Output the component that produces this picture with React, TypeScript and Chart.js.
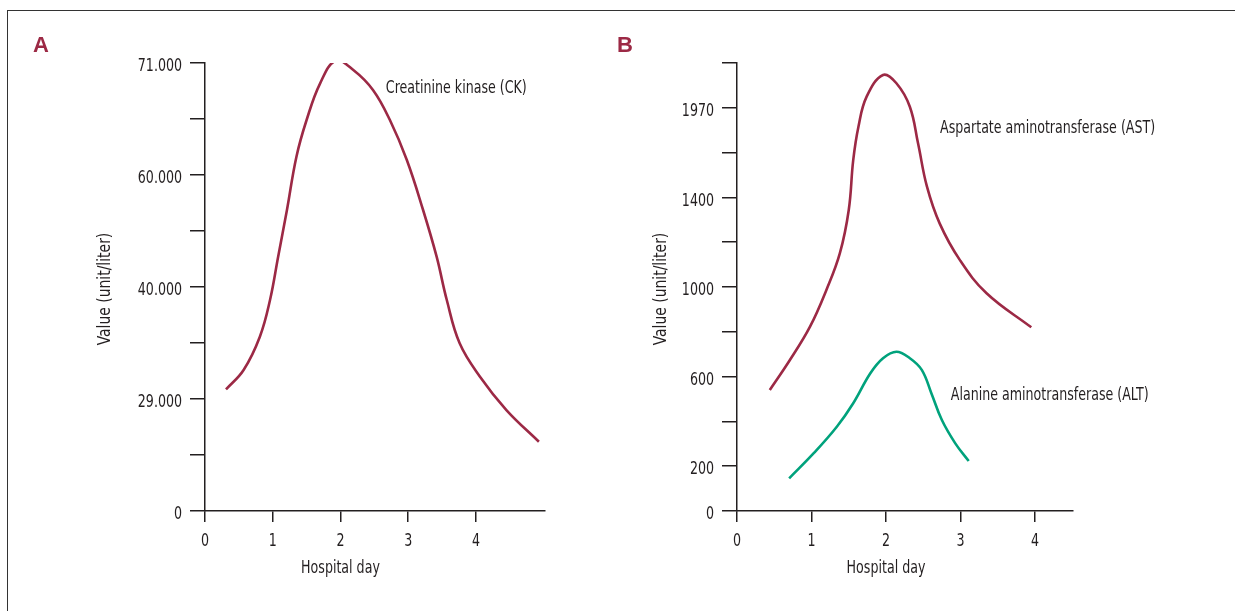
import React, { useEffect, useRef } from "react";
import { Chart, registerables } from "chart.js";

Chart.register(...registerables);

// ---------- Data ----------
// Panel A: Creatinine kinase (CK)
const ckDays = [0.31, 0.57, 0.81, 0.96, 1.08, 1.21, 1.35, 1.5, 1.7, 1.93, 2.19, 2.48, 2.73, 2.98, 3.22, 3.42, 3.57, 3.76, 4.06, 4.45, 4.93];
const ckValues = [29950, 31850, 35120, 38720, 45410, 53750, 61800, 65400, 69000, 71220, 70310, 68350, 65400, 61470, 53750, 45410, 38720, 34470, 31190, 26150, 17940];
const ckTickValues = [0, 29000, 40000, 60000, 71000];
const ckTickPositions = [0, 2, 4, 6, 8];
const ckTickLabels = ["0", "29.000", "40.000", "60.000", "71.000"];

// Panel B: AST and ALT
const astDays = [0.44, 0.71, 0.98, 1.2, 1.38, 1.5, 1.56, 1.63, 1.74, 1.96, 2.14, 2.32, 2.43, 2.55, 2.72, 2.99, 3.35, 3.95];
const astValues = [540, 674, 823, 987, 1150, 1344, 1637, 1850, 2041, 2179, 2126, 1977, 1744, 1468, 1284, 1121, 972, 820];
const altDays = [0.7, 1.03, 1.34, 1.56, 1.79, 1.96, 2.14, 2.32, 2.48, 2.61, 2.75, 2.93, 3.11];
const altValues = [146, 258, 376, 481, 615, 682, 711, 682, 630, 525, 406, 302, 223];
const bTickValues = [0, 200, 600, 1000, 1400, 1970];
const bTickPositions = [0, 1, 3, 5, 7, 9];
const bTickLabels = ["0", "200", "600", "1000", "1400", "1970"];

const dayTicks = [0, 1, 2, 3, 4];

// ---------- Styles ----------
const RED = "#9c2945";
const GREEN = "#00a27c";
const INK = "#231f20";
const FONT = '"DejaVu Sans Condensed", "Liberation Sans Narrow", sans-serif';
const FONT_SIZE = 18;
const SX = 0.78; // horizontal condensing to mimic the narrow typeface
const SX_TITLE = 0.86;
const H = 611;

// piecewise-linear mapping of a value onto the broken axis' tick positions
function toPos(v: number, vals: number[], poss: number[]): number {
  for (let i = 1; i < vals.length; i++) {
    if (v <= vals[i] || i === vals.length - 1) {
      const t = (v - vals[i - 1]) / (vals[i] - vals[i - 1]);
      return poss[i - 1] + t * (poss[i] - poss[i - 1]);
    }
  }
  return 0;
}

function labelFor(pos: number, poss: number[], labels: string[]): string {
  const i = poss.indexOf(pos);
  return i >= 0 ? labels[i] : "";
}

function drawText(
  ctx: CanvasRenderingContext2D,
  text: string,
  x: number,
  y: number,
  align: CanvasTextAlign,
  baseline: CanvasTextBaseline,
  rotate = false,
  sx = SX
) {
  ctx.save();
  ctx.translate(x, y);
  if (rotate) ctx.rotate(-Math.PI / 2);
  ctx.scale(sx, 1);
  ctx.textAlign = align;
  ctx.textBaseline = baseline;
  ctx.fillText(text, 0, 0);
  ctx.restore();
}

const textPlugin = {
  id: "panelTexts",
  afterDraw(chart: any, _args: any, opts: any) {
    const { ctx, scales, chartArea } = chart;
    const xs = scales.x;
    const ys = scales.y;
    ctx.save();
    ctx.font = `bold 22px "Liberation Sans", Arial, sans-serif`;
    ctx.fillStyle = RED;
    ctx.textAlign = "left";
    ctx.textBaseline = "alphabetic";
    ctx.fillText(opts.letter, opts.letterX, 52);

    ctx.font = `${FONT_SIZE}px ${FONT}`;
    ctx.fillStyle = INK;

    // y tick labels
    for (const t of ys.ticks) {
      const lab = labelFor(t.value, opts.tickPositions, opts.tickLabels);
      if (lab) drawText(ctx, lab, chartArea.left - 15 - 8, ys.getPixelForValue(t.value) + 8.2, "right", "alphabetic");
    }
    // x tick labels
    for (const t of xs.ticks) {
      drawText(ctx, String(t.value), xs.getPixelForValue(t.value), 545.5, "center", "alphabetic");
    }

    drawText(ctx, "Hospital day", xs.getPixelForValue(2), 572.5, "center", "alphabetic");
    drawText(
      ctx,
      "Value (unit/liter)",
      opts.yTitleX,
      (chartArea.top + chartArea.bottom) / 2 + 2,
      "center",
      "middle",
      true,
      SX_TITLE
    );

    for (const n of opts.notes) {
      drawText(ctx, n.text, xs.getPixelForValue(n.day), ys.getPixelForValue(n.pos), "left", "middle");
    }
    ctx.restore();
  },
};

function makeConfig(p: any): any {
  return {
    type: "line",
    data: { datasets: p.datasets },
    plugins: [textPlugin],
    options: {
      animation: false,
      responsive: false,
      events: [],
      layout: { padding: { left: 0, top: 63, right: p.rightPad, bottom: 0 } },
      elements: { point: { radius: 0 } },
      plugins: {
        legend: { display: false },
        tooltip: { enabled: false },
        panelTexts: {
          letter: p.letter,
          letterX: p.letterX,
          yTitleX: p.yTitleX,
          notes: p.notes,
          tickPositions: p.tickPositions,
          tickLabels: p.tickLabels,
        },
      },
      scales: {
        x: {
          type: "linear",
          min: 0,
          max: p.xMax,
          afterBuildTicks: (s: any) => {
            s.ticks = dayTicks.map((v) => ({ value: v }));
          },
          afterFit: (s: any) => {
            s.height = H - 511;
          },
          ticks: { display: false },
          grid: { drawOnChartArea: false, drawTicks: true, tickLength: 11, color: INK, lineWidth: 1.5 },
          border: { display: true, color: INK, width: 1.5 },
        },
        y: {
          type: "linear",
          min: 0,
          max: p.yMax,
          afterBuildTicks: (s: any) => {
            const t = [];
            for (let i = 0; i <= p.yMax; i++) t.push({ value: i });
            s.ticks = t;
          },
          afterFit: (s: any) => {
            s.width = p.axisLeft;
          },
          ticks: { display: false },
          grid: { drawOnChartArea: false, drawTicks: true, tickLength: 15, color: INK, lineWidth: 1.5 },
          border: { display: true, color: INK, width: 1.5 },
        },
      },
    },
  };
}

function series(days: number[], values: number[], vals: number[], poss: number[], color: string) {
  return {
    data: days.map((d, i) => ({ x: d, y: toPos(values[i], vals, poss) })),
    borderColor: color,
    borderWidth: 2.6,
    tension: 0.4,
    fill: false,
    pointRadius: 0,
  };
}

const configA = () =>
  makeConfig({
    datasets: [series(ckDays, ckValues, ckTickValues, ckTickPositions, RED)],
    xMax: 5.02,
    yMax: 8,
    axisLeft: 205,
    rightPad: 610 - 545,
    tickPositions: ckTickPositions,
    tickLabels: ckTickLabels,
    letter: "A",
    letterX: 33,
    yTitleX: 105,
    notes: [{ text: "Creatinine kinase (CK)", day: 2.67, pos: 7.55 }],
  });

const configB = () =>
  makeConfig({
    datasets: [
      series(astDays, astValues, bTickValues, bTickPositions, RED),
      series(altDays, altValues, bTickValues, bTickPositions, GREEN),
    ],
    xMax: 4.51,
    yMax: 10,
    axisLeft: 737 - 610,
    rightPad: 625 - (1073 - 610),
    tickPositions: bTickPositions,
    tickLabels: bTickLabels,
    letter: "B",
    letterX: 7,
    yTitleX: 661 - 610,
    notes: [
      { text: "Aspartate aminotransferase (AST)", day: 2.725, pos: 8.55 },
      { text: "Alanine aminotransferase (ALT)", day: 2.87, pos: 2.59 },
    ],
  });

function Panel({ makeCfg, left, width }: { makeCfg: () => any; left: number; width: number }) {
  const ref = useRef<HTMLCanvasElement | null>(null);
  useEffect(() => {
    if (!ref.current) return;
    const chart = new Chart(ref.current, makeCfg());
    return () => chart.destroy();
  }, []);
  return (
    <canvas
      ref={ref}
      width={width}
      height={H}
      style={{ position: "absolute", left, top: 0, width, height: H, display: "block" }}
    />
  );
}

export default function App() {
  return (
    <div style={{ position: "absolute", left: 0, top: 0, width: 1235, height: H, overflow: "hidden", background: "#fff" }}>
      <div
        style={{
          position: "absolute",
          left: 7,
          top: 10,
          width: 1240,
          height: 700,
          borderTop: "1.5px solid #333",
          borderLeft: "1.5px solid #333",
        }}
      />
      <Panel makeCfg={configA} left={0} width={610} />
      <Panel makeCfg={configB} left={610} width={625} />
    </div>
  );
}
